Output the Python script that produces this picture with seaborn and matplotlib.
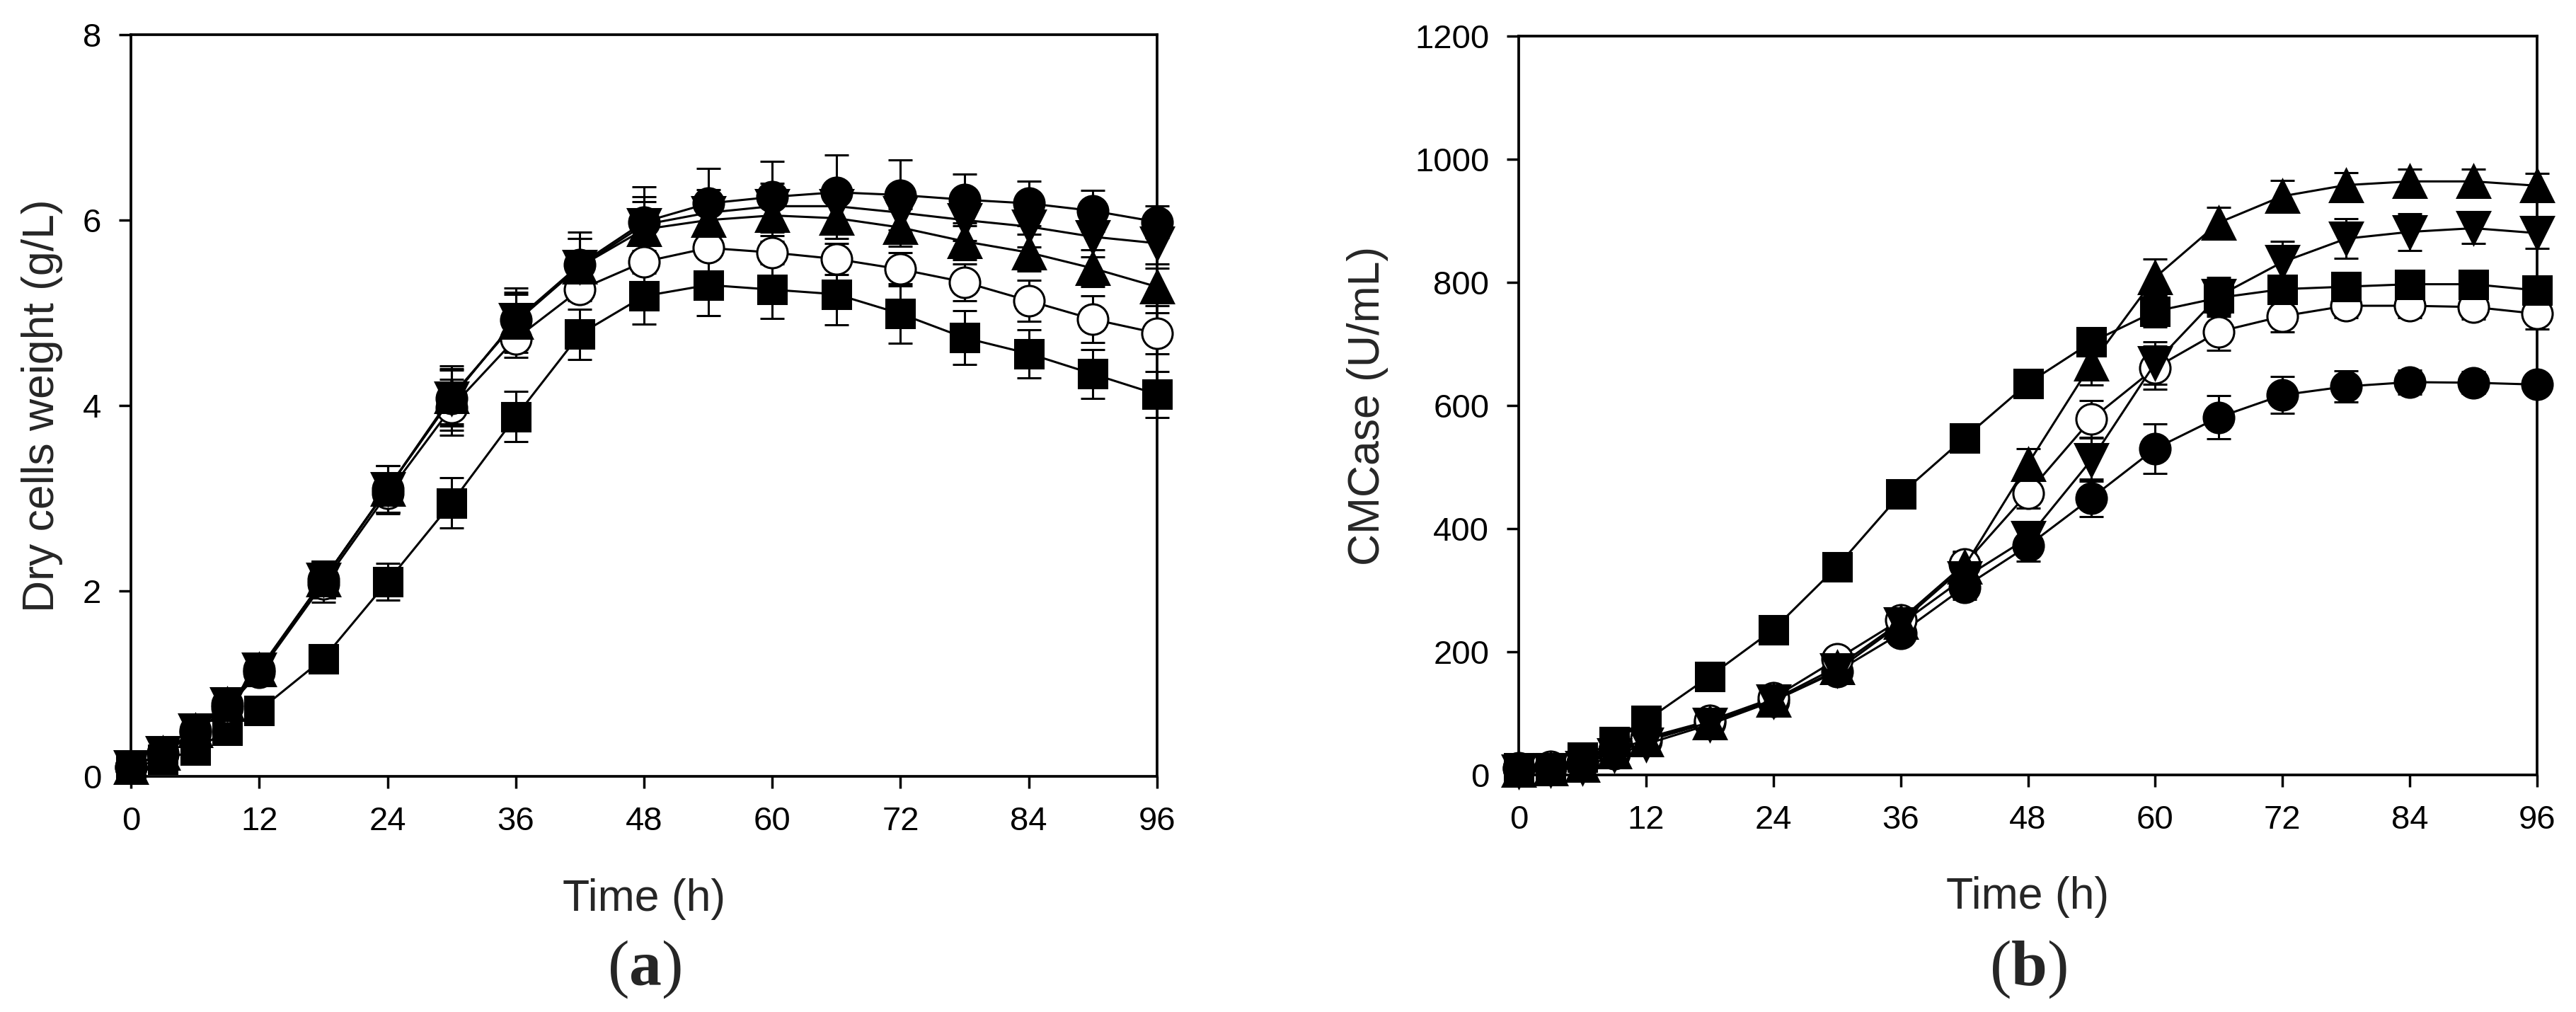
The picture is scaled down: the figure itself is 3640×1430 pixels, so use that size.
import numpy as np
import pandas as pd
import matplotlib
matplotlib.use("Agg")
import matplotlib.pyplot as plt
import seaborn as sns

# ---------------- data ----------------
time_h = [0, 3, 6, 9, 12, 18, 24, 30, 36, 42, 48, 54, 60, 66, 72, 78, 84, 90, 96]

# panel (a) dry cell weight (g/L)
dcw_fcircle = [0.10, 0.25, 0.50, 0.78, 1.15, 2.12, 3.10, 4.08, 4.92, 5.52, 5.98, 6.18, 6.25, 6.30, 6.27, 6.22, 6.18, 6.10, 5.98]
dcw_fcircle_sd = [0.03, 0.05, 0.06, 0.08, 0.12, 0.20, 0.25, 0.35, 0.35, 0.35, 0.38, 0.38, 0.38, 0.40, 0.38, 0.28, 0.24, 0.22, 0.17]
dcw_ocircle = [0.10, 0.24, 0.47, 0.74, 1.12, 2.08, 3.05, 3.98, 4.72, 5.25, 5.55, 5.70, 5.65, 5.58, 5.47, 5.33, 5.13, 4.93, 4.78]
dcw_ocircle_sd = [0.03, 0.05, 0.06, 0.08, 0.12, 0.20, 0.22, 0.30, 0.20, 0.12, 0.12, 0.10, 0.12, 0.17, 0.18, 0.20, 0.22, 0.25, 0.22]
dcw_utri = [0.10, 0.25, 0.50, 0.78, 1.15, 2.12, 3.10, 4.10, 4.90, 5.50, 5.90, 6.00, 6.05, 6.02, 5.92, 5.77, 5.65, 5.48, 5.28]
dcw_utri_sd = [0.03, 0.05, 0.06, 0.08, 0.12, 0.20, 0.25, 0.30, 0.30, 0.30, 0.30, 0.25, 0.22, 0.22, 0.20, 0.20, 0.20, 0.20, 0.20]
dcw_dtri = [0.10, 0.25, 0.50, 0.78, 1.15, 2.12, 3.10, 4.08, 4.92, 5.50, 5.95, 6.08, 6.15, 6.15, 6.08, 6.00, 5.93, 5.82, 5.75]
dcw_dtri_sd = [0.03, 0.05, 0.06, 0.08, 0.12, 0.20, 0.25, 0.30, 0.30, 0.30, 0.30, 0.25, 0.25, 0.25, 0.22, 0.22, 0.22, 0.22, 0.22]
dcw_square = [0.10, 0.18, 0.28, 0.50, 0.71, 1.27, 2.10, 2.95, 3.88, 4.77, 5.18, 5.30, 5.25, 5.20, 4.99, 4.73, 4.56, 4.34, 4.12]
dcw_square_sd = [0.02, 0.03, 0.04, 0.05, 0.06, 0.08, 0.20, 0.27, 0.27, 0.27, 0.30, 0.33, 0.31, 0.33, 0.32, 0.29, 0.26, 0.26, 0.25]

# panel (b) CMCase (U/mL)
cmc_fcircle = [10, 12, 18, 35, 55, 85, 120, 168, 230, 305, 372, 450, 530, 581, 617, 631, 638, 637, 634]
cmc_fcircle_sd = [3, 3, 4, 5, 6, 8, 10, 12, 15, 20, 25, 30, 40, 35, 30, 25, 20, 18, 15]
cmc_ocircle = [12, 14, 20, 40, 60, 88, 125, 188, 252, 342, 458, 578, 661, 720, 745, 762, 762, 760, 749]
cmc_ocircle_sd = [3, 3, 4, 5, 6, 8, 10, 12, 15, 20, 25, 30, 35, 30, 25, 20, 20, 20, 25]
cmc_utri = [8, 10, 16, 38, 58, 85, 122, 175, 248, 338, 505, 668, 808, 897, 940, 958, 964, 964, 957]
cmc_utri_sd = [3, 3, 4, 5, 6, 8, 10, 12, 15, 25, 25, 35, 30, 25, 25, 20, 20, 20, 20]
cmc_dtri = [6, 8, 12, 32, 50, 82, 120, 170, 245, 320, 385, 512, 669, 778, 833, 871, 882, 888, 880]
cmc_dtri_sd = [3, 3, 4, 5, 6, 8, 10, 12, 15, 25, 25, 35, 35, 30, 34, 32, 30, 25, 25]
cmc_square = [12, 12, 29, 54, 88, 160, 236, 338, 456, 547, 636, 703, 753, 775, 789, 793, 797, 797, 787]
cmc_square_sd = [3, 3, 4, 5, 6, 8, 10, 10, 15, 20, 22, 20, 25, 30, 20, 20, 20, 20, 20]

x_ticks = [0, 12, 24, 36, 48, 60, 72, 84, 96]
ya_ticks = [0, 2, 4, 6, 8]
yb_ticks = [0, 200, 400, 600, 800, 1000, 1200]

# ---------------- style ----------------
sns.set_style("white")
plt.rcParams["font.family"] = ["Liberation Sans", "DejaVu Sans"]
plt.rcParams["mathtext.fontset"] = "custom"
plt.rcParams["mathtext.rm"] = "Liberation Serif"
plt.rcParams["mathtext.bf"] = "Liberation Serif:bold"

fig = plt.figure(figsize=(36.4, 14.3), dpi=100)
ax_a = fig.add_axes([185 / 3640, 1 - 1097 / 1430, (1635 - 185) / 3640, (1097 - 49) / 1430])
ax_b = fig.add_axes([2146 / 3640, 1 - 1095 / 1430, (3585 - 2146) / 3640, (1095 - 51) / 1430])

# series style: (marker, facecolor, size)
styles = {
    "square": ("s", "black", 29),
    "ocircle": ("o", "white", 31),
    "utri": ("^", "black", 33),
    "dtri": ("v", "black", 33),
    "fcircle": ("o", "black", 31),
}

def draw(ax, series):
    for i, (key, vals, sd) in enumerate(series):
        m, fc, ms = styles[key]
        ax.errorbar(time_h, vals, yerr=sd, fmt="none", ecolor="black",
                    elinewidth=2.2, capsize=12, capthick=2.2, clip_on=False,
                    zorder=2 + i * 0.1)
        df = pd.DataFrame({"t": time_h, "v": vals})
        sns.lineplot(data=df, x="t", y="v", ax=ax, color="black", linewidth=2.2,
                     marker=m, markersize=ms, markerfacecolor=fc,
                     markeredgecolor="black", markeredgewidth=2.2,
                     clip_on=False, zorder=3 + i * 0.1)

draw(ax_a, [
    ("square", dcw_square, dcw_square_sd),
    ("ocircle", dcw_ocircle, dcw_ocircle_sd),
    ("utri", dcw_utri, dcw_utri_sd),
    ("dtri", dcw_dtri, dcw_dtri_sd),
    ("fcircle", dcw_fcircle, dcw_fcircle_sd),
])
draw(ax_b, [
    ("fcircle", cmc_fcircle, cmc_fcircle_sd),
    ("ocircle", cmc_ocircle, cmc_ocircle_sd),
    ("dtri", cmc_dtri, cmc_dtri_sd),
    ("utri", cmc_utri, cmc_utri_sd),
    ("square", cmc_square, cmc_square_sd),
])

for ax, yt, ylab, ylab_x in [
    (ax_a, ya_ticks, "Dry cells weight (g/L)", -0.066),
    (ax_b, yb_ticks, "CMCase (U/mL)", -0.128),
]:
    ax.set_xlim(0, 96)
    ax.set_ylim(yt[0], yt[-1])
    ax.set_xticks(x_ticks)
    ax.set_yticks(yt)
    ax.set_xticklabels([str(v) for v in x_ticks])
    ax.set_yticklabels([str(v) for v in yt])
    ax.tick_params(axis="both", which="major", direction="out", length=12,
                   width=2.5, labelsize=34, pad=18, color="black",
                   labelcolor="black", top=False, right=False,
                   bottom=True, left=True)
    for sp in ax.spines.values():
        sp.set_visible(True)
        sp.set_linewidth(2.7)
        sp.set_color("black")
    ax.set_xlabel("Time (h)", fontsize=45)
    ax.set_ylabel(ylab, fontsize=45)
    ax.xaxis.set_label_coords(0.5, -0.137)
    ax.yaxis.set_label_coords(ylab_x, 0.5)
    ax.set_facecolor("white")
    ax.grid(False)

fig.text(910 / 3640, 1 - 1370 / 1430, r"$\mathrm{(}\mathbf{a}\mathrm{)}$",
         fontsize=66, ha="center", va="center")
fig.text(2866 / 3640, 1 - 1370 / 1430, r"$\mathrm{(}\mathbf{b}\mathrm{)}$",
         fontsize=66, ha="center", va="center")

fig.savefig("out.png", dpi=100, facecolor="white")
